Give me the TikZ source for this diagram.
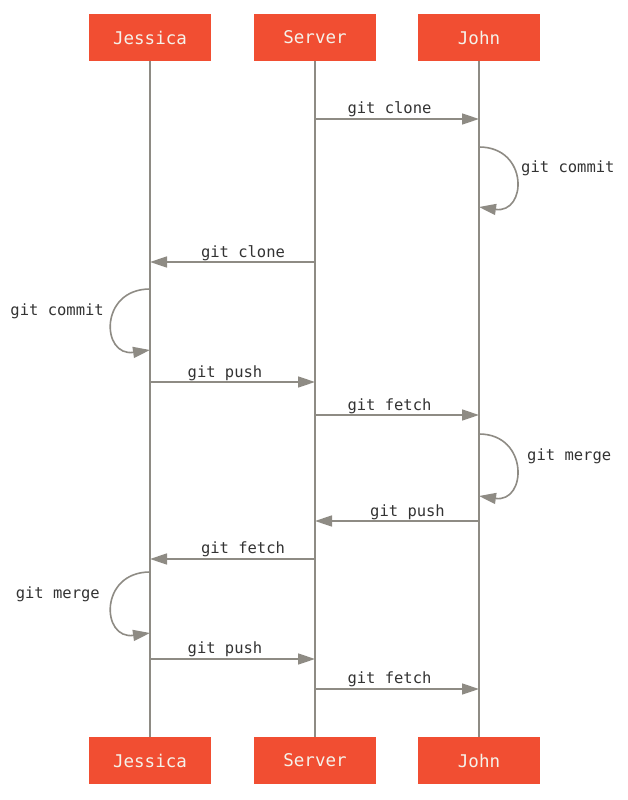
\documentclass[tikz,border=0pt]{standalone}
\usepackage{fontspec}
\setmonofont{DejaVu Sans Mono}
\usetikzlibrary{arrows.meta}
\definecolor{gitred}{HTML}{F14E32}
\definecolor{linegray}{HTML}{8E8B84}
\definecolor{labeltext}{HTML}{333333}
\definecolor{boxtext}{HTML}{F5F2EA}
\begin{document}
\begin{tikzpicture}[x=1pt,y=-1pt,
  actor/.style={fill=gitred, draw=none, minimum width=122pt, minimum height=47pt, text=boxtext, font=\fontsize{17.5}{20}\selectfont\ttfamily, inner sep=0pt},
  lifeline/.style={draw=linegray, line width=1.8pt},
  msg/.style={draw=linegray, line width=1.6pt, -{Triangle[length=17pt,width=11pt]}},
  lbl/.style={text=labeltext, font=\fontsize{15.5}{18}\selectfont\ttfamily, inner sep=0pt}]
\useasboundingbox (0,0) rectangle (627,800);
% actors
\node[actor] (jt) at (150,37.5) {Jessica};
\node[actor] (st) at (315,37.5) {Server};
\node[actor] (ht) at (479,37.5) {John};
\node[actor] (jb) at (150,760.5) {Jessica};
\node[actor] (sb) at (315,760.5) {Server};
\node[actor] (hb) at (479,760.5) {John};
% lifelines
\draw[lifeline] (jt.south) -- (jb.north);
\draw[lifeline] (st.south) -- (sb.north);
\draw[lifeline] (ht.south) -- (hb.north);
% coordinates on lifelines
\coordinate (s1) at (315,119); \coordinate (h1) at (479,119);
\coordinate (h2a) at (479,147); \coordinate (h2b) at (479,207);
\coordinate (s3) at (315,262); \coordinate (j3) at (150,262);
\coordinate (j4a) at (150,289); \coordinate (j4b) at (150,350);
\coordinate (j5) at (150,382); \coordinate (s5) at (315,382);
\coordinate (s6) at (315,415); \coordinate (h6) at (479,415);
\coordinate (h7a) at (479,434); \coordinate (h7b) at (479,496);
\coordinate (h8) at (479,521); \coordinate (s8) at (315,521);
\coordinate (s9) at (315,559); \coordinate (j9) at (150,559);
\coordinate (j10a) at (150,572); \coordinate (j10b) at (150,633);
\coordinate (j11) at (150,659); \coordinate (s11) at (315,659);
\coordinate (s12) at (315,689); \coordinate (h12) at (479,689);
% messages
\draw[msg] (s1) -- (h1);
\node[lbl] (l1) at (389.5,109.5) {git clone};
\draw[msg] (h2a) .. controls (529,147) and (527,214) .. (h2b);
\node[lbl, anchor=west] (l2) at (521,168.5) {git commit};
\draw[msg] (s3) -- (j3);
\node[lbl] (l3) at (243,253.5) {git clone};
\draw[msg] (j4a) .. controls (99,289) and (101,357) .. (j4b);
\node[lbl, anchor=east] (l4) at (104,311.5) {git commit};
\draw[msg] (j5) -- (s5);
\node[lbl] (l5) at (225,373.5) {git push};
\draw[msg] (s6) -- (h6);
\node[lbl] (l6) at (389.5,406.5) {git fetch};
\draw[msg] (h7a) .. controls (529,434) and (527,503) .. (h7b);
\node[lbl, anchor=west] (l7) at (527,456.5) {git merge};
\draw[msg] (h8) -- (s8);
\node[lbl] (l8) at (407.5,512.5) {git push};
\draw[msg] (s9) -- (j9);
\node[lbl] (l9) at (243,549.5) {git fetch};
\draw[msg] (j10a) .. controls (99,572) and (101,640) .. (j10b);
\node[lbl, anchor=east] (l10) at (100,594.5) {git merge};
\draw[msg] (j11) -- (s11);
\node[lbl] (l11) at (225,649.5) {git push};
\draw[msg] (s12) -- (h12);
\node[lbl] (l12) at (389.5,679.5) {git fetch};
\end{tikzpicture}
\end{document}
